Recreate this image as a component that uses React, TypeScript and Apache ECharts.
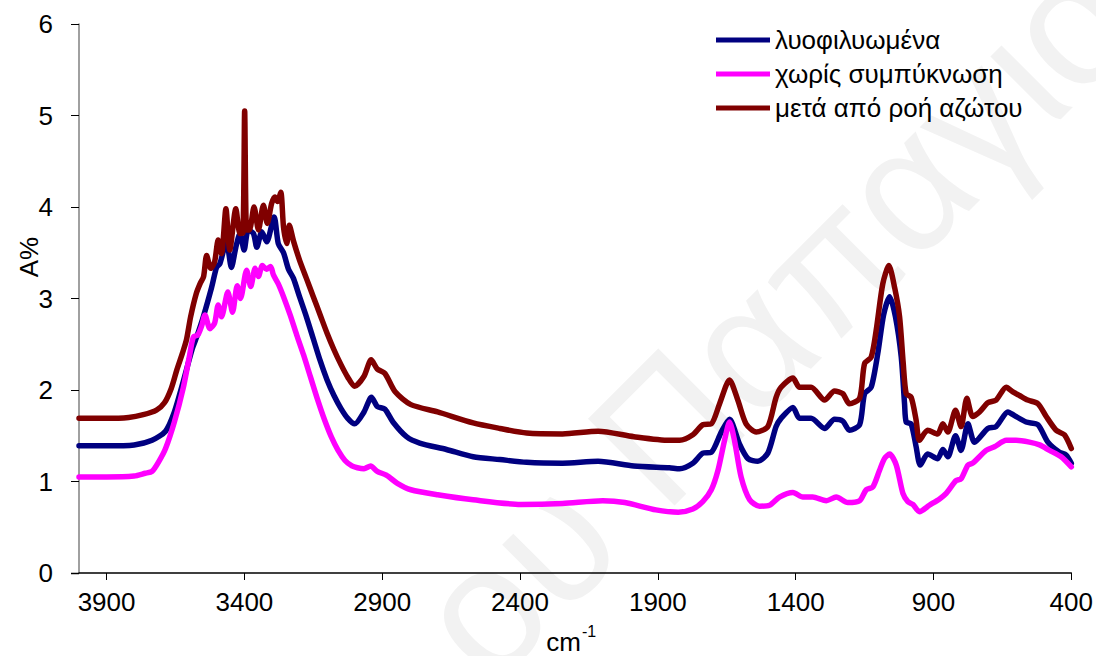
import React, { useEffect, useRef } from "react";
import * as echarts from "echarts";

// Wavenumber (cm-1) and absorbance pairs for each spectrum
const lyoWn = [4000, 3900, 3800, 3735, 3686, 3654, 3622, 3589, 3573, 3549, 3519, 3501, 3489, 3465, 3447, 3431, 3416, 3401, 3386, 3367, 3355, 3337, 3319, 3292, 3277, 3258, 3240, 3222, 3200, 3175, 3150, 3125, 3100, 3075, 3050, 3025, 3000, 2966, 2939, 2918, 2890, 2861, 2812, 2764, 2667, 2570, 2473, 2376, 2246, 2117, 1987, 1858, 1821, 1773, 1737, 1706, 1670, 1640, 1604, 1573, 1537, 1501, 1471, 1453, 1410, 1386, 1344, 1295, 1259, 1229, 1205, 1168, 1150, 1126, 1102, 1081, 1059, 1038, 1017, 1005, 999, 981, 963, 948, 921, 885, 866, 848, 820, 800, 775, 751, 703, 673, 630, 606, 564, 521, 485, 443, 419, 400];
const lyoA = [1.39, 1.39, 1.40, 1.45, 1.55, 1.76, 2.09, 2.45, 2.58, 2.80, 3.12, 3.34, 3.38, 3.62, 3.34, 3.56, 3.71, 3.53, 3.75, 3.71, 3.56, 3.73, 3.62, 3.89, 3.60, 3.50, 3.32, 3.22, 3.02, 2.80, 2.56, 2.32, 2.11, 1.94, 1.80, 1.69, 1.63, 1.76, 1.92, 1.82, 1.79, 1.65, 1.49, 1.42, 1.35, 1.27, 1.24, 1.21, 1.20, 1.22, 1.17, 1.15, 1.14, 1.20, 1.31, 1.32, 1.54, 1.68, 1.41, 1.25, 1.22, 1.31, 1.60, 1.69, 1.81, 1.69, 1.69, 1.58, 1.68, 1.66, 1.56, 1.62, 1.96, 2.03, 2.40, 2.82, 3.02, 2.80, 2.36, 1.85, 1.65, 1.63, 1.38, 1.18, 1.30, 1.25, 1.35, 1.27, 1.50, 1.34, 1.63, 1.43, 1.58, 1.60, 1.76, 1.72, 1.65, 1.62, 1.43, 1.32, 1.29, 1.20];

const noCondWn = [4000, 3900, 3800, 3760, 3735, 3710, 3686, 3654, 3622, 3600, 3585, 3569, 3555, 3543, 3525, 3508, 3495, 3483, 3460, 3443, 3426, 3414, 3392, 3377, 3361, 3349, 3335, 3320, 3305, 3295, 3277, 3258, 3234, 3210, 3185, 3160, 3135, 3110, 3085, 3060, 3035, 3010, 2990, 2966, 2942, 2918, 2885, 2845, 2796, 2699, 2570, 2398, 2246, 2100, 2020, 1907, 1826, 1773, 1737, 1706, 1682, 1658, 1640, 1622, 1598, 1567, 1531, 1495, 1459, 1410, 1374, 1338, 1289, 1253, 1211, 1168, 1144, 1120, 1096, 1078, 1059, 1035, 1011, 993, 975, 951, 915, 878, 854, 818, 800, 775, 758, 709, 679, 636, 600, 552, 515, 479, 437, 400];
const noCondA = [1.05, 1.05, 1.06, 1.09, 1.11, 1.22, 1.36, 1.65, 2.02, 2.36, 2.58, 2.60, 2.70, 2.82, 2.67, 2.73, 2.93, 2.80, 3.07, 2.85, 3.14, 3.00, 3.31, 3.13, 3.33, 3.24, 3.36, 3.32, 3.35, 3.26, 3.16, 3.02, 2.82, 2.60, 2.38, 2.14, 1.90, 1.68, 1.49, 1.34, 1.23, 1.17, 1.15, 1.14, 1.17, 1.11, 1.07, 0.98, 0.91, 0.855, 0.80, 0.75, 0.76, 0.79, 0.77, 0.69, 0.665, 0.70, 0.78, 0.91, 1.12, 1.45, 1.65, 1.45, 1.05, 0.80, 0.73, 0.74, 0.83, 0.88, 0.83, 0.83, 0.79, 0.83, 0.77, 0.79, 0.91, 0.94, 1.12, 1.25, 1.30, 1.18, 0.87, 0.78, 0.75, 0.67, 0.74, 0.81, 0.87, 1.01, 1.03, 1.18, 1.20, 1.34, 1.38, 1.45, 1.45, 1.43, 1.40, 1.34, 1.27, 1.16];

const n2Wn = [4000, 3900, 3820, 3767, 3719, 3690, 3665, 3645, 3625, 3610, 3595, 3575, 3561, 3548, 3537, 3522, 3508, 3495, 3483, 3467, 3453, 3431, 3416, 3405, 3399, 3392, 3382, 3365, 3349, 3331, 3317, 3301, 3289, 3280, 3268, 3258, 3246, 3237, 3222, 3200, 3175, 3150, 3125, 3100, 3075, 3050, 3025, 3000, 2966, 2940, 2918, 2890, 2853, 2796, 2699, 2570, 2473, 2376, 2246, 2117, 1987, 1858, 1821, 1773, 1737, 1706, 1676, 1640, 1610, 1580, 1543, 1501, 1471, 1453, 1410, 1386, 1344, 1295, 1259, 1229, 1205, 1168, 1150, 1126, 1108, 1084, 1062, 1041, 1023, 1010, 999, 981, 963, 951, 921, 885, 866, 848, 820, 800, 779, 758, 733, 703, 673, 636, 612, 588, 558, 521, 491, 455, 425, 400];
const n2A = [1.69, 1.69, 1.70, 1.73, 1.78, 1.86, 2.02, 2.22, 2.40, 2.55, 2.80, 3.05, 3.16, 3.24, 3.47, 3.33, 3.40, 3.64, 3.49, 3.98, 3.53, 3.98, 3.71, 3.72, 5.05, 3.75, 3.75, 4.00, 3.75, 4.02, 3.82, 4.04, 4.11, 4.06, 4.16, 3.78, 3.60, 3.80, 3.63, 3.42, 3.22, 3.02, 2.82, 2.62, 2.44, 2.28, 2.14, 2.04, 2.15, 2.33, 2.23, 2.18, 1.98, 1.84, 1.76, 1.64, 1.58, 1.53, 1.52, 1.55, 1.49, 1.45, 1.45, 1.51, 1.62, 1.63, 1.85, 2.11, 1.89, 1.63, 1.54, 1.60, 1.92, 2.03, 2.13, 2.03, 2.03, 1.89, 1.99, 1.96, 1.85, 1.91, 2.29, 2.36, 2.65, 3.16, 3.36, 3.12, 2.80, 2.30, 1.96, 1.92, 1.67, 1.45, 1.56, 1.52, 1.63, 1.54, 1.78, 1.60, 1.91, 1.71, 1.76, 1.86, 1.89, 2.03, 1.98, 1.94, 1.89, 1.85, 1.71, 1.56, 1.51, 1.36];

const seriesNames = ["λυοφιλυωμένα", "χωρίς συμπύκνωση", "μετά από ροή αζώτου"];
const seriesColors = ["#000080", "#FF00FF", "#800000"];
const xTicks = [3900, 3400, 2900, 2400, 1900, 1400, 900, 400];

const FONT = "'Liberation Sans', Arial, sans-serif";

function pairs(wn: number[], a: number[]) {
  return wn.map((w, i) => [w, a[i]]);
}

export default function App() {
  const ref = useRef<HTMLDivElement>(null);

  useEffect(() => {
    if (!ref.current) return;
    const chart = echarts.init(ref.current, undefined, { renderer: "svg" });
    const datasets = [pairs(lyoWn, lyoA), pairs(noCondWn, noCondA), pairs(n2Wn, n2A)];

    chart.setOption({
      animation: false,
      backgroundColor: "#ffffff",
      grid: { left: 79, right: 24, top: 24, bottom: 83, containLabel: false },
      graphic: [
        {
          type: "text",
          x: 775,
          y: 318,
          rotation: Math.PI / 4,
          z: -10,
          silent: true,
          style: {
            text: "ου Παπαγιο",
            font: `178px ${FONT}`,
            fill: "#f2f2f2",
            align: "center",
            verticalAlign: "middle",
          },
        },
        {
          type: "text",
          x: 29,
          y: 257,
          rotation: Math.PI / 2,
          style: { text: "A%", font: `26px ${FONT}`, fill: "#000", align: "center", verticalAlign: "middle" },
        },
        {
          type: "text",
          x: 581,
          y: 642,
          style: { text: "cm", font: `26px ${FONT}`, fill: "#000", align: "right", verticalAlign: "middle" },
        },
        {
          type: "text",
          x: 582,
          y: 631,
          style: { text: "-1", font: `16px ${FONT}`, fill: "#000", align: "left", verticalAlign: "middle" },
        },
        {
          // the zero tick of the value axis continues to the left of the y axis
          type: "line",
          shape: { x1: 71, y1: 573.5, x2: 79, y2: 573.5 },
          style: { stroke: "#000", lineWidth: 1.5 },
        },
      ],
      legend: {
        orient: "vertical",
        left: 711,
        top: 22,
        icon: "rect",
        itemWidth: 54,
        itemHeight: 5,
        itemGap: 8,
        data: seriesNames,
        textStyle: { fontFamily: FONT, fontSize: 26, color: "#000", lineHeight: 26 },
      },
      xAxis: {
        type: "value",
        inverse: true,
        min: 400,
        max: 4000,
        interval: 500,
        axisLine: { show: true, onZero: false, lineStyle: { color: "#000", width: 1.5 } },
        axisTick: { show: true, length: 7, lineStyle: { color: "#000" }, customValues: xTicks },
        axisLabel: {
          customValues: xTicks,
          formatter: (v: number) => String(v),
          fontFamily: FONT,
          fontSize: 26,
          color: "#000",
          margin: 16,
        },
        splitLine: { show: false },
      },
      yAxis: {
        type: "value",
        min: 0,
        max: 6,
        interval: 1,
        axisLine: { show: true, lineStyle: { color: "#808080", width: 1.5 } },
        axisTick: { show: true, length: 8, lineStyle: { color: "#000" } },
        axisLabel: { fontFamily: FONT, fontSize: 26, color: "#000", margin: 26 },
        splitLine: { show: false },
      },
      series: datasets.map((d, i) => ({
        name: seriesNames[i],
        type: "line",
        data: d,
        symbol: "none",
        smooth: 0.25,
        color: seriesColors[i],
        lineStyle: { width: 5.5, color: seriesColors[i], join: "round", cap: "round" },
        z: 2 + i,
      })),
    });

    return () => chart.dispose();
  }, []);

  return (
    <div
      ref={ref}
      style={{ position: "fixed", left: 0, top: 0, width: 1096, height: 656 }}
    />
  );
}
